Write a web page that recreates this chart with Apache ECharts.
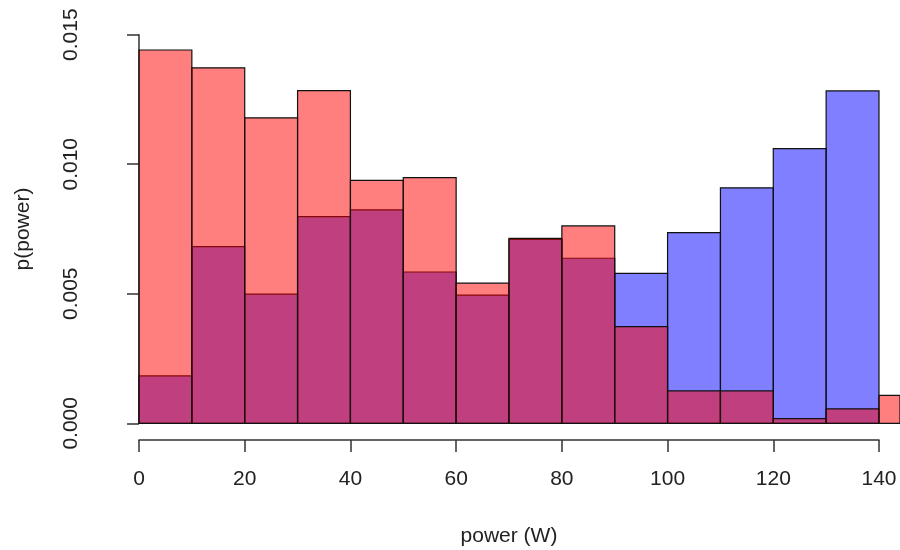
<!DOCTYPE html>
<html>
<head>
<meta charset="utf-8">
<script src="https://cdn.jsdelivr.net/npm/echarts@6/dist/echarts.min.js"></script>
<style>
  html, body { margin: 0; padding: 0; background: #fff; }
  #chart { width: 900px; height: 550px; }
</style>
</head>
<body>
<div id="chart"></div>
<script>
// Histogram bin edges (W) and densities per bin
const binStarts = [0, 10, 20, 30, 40, 50, 60, 70, 80, 90, 100, 110, 120, 130, 140];
const binWidth = 10;
const redDensity  = [0.01441, 0.01372, 0.01179, 0.01284, 0.00938, 0.00948, 0.00541, 0.00714, 0.00762, 0.00373, 0.00125, 0.00125, 0.00018, 0.00056, 0.00108];
const blueDensity = [0.00183, 0.00682, 0.00499, 0.00798, 0.00824, 0.00584, 0.00495, 0.00710, 0.00637, 0.00579, 0.00736, 0.00909, 0.01060, 0.01283];
const xTicks = [0, 20, 40, 60, 80, 100, 120, 140];

const FONT = 'Liberation Sans, Arial, sans-serif';

// Plot area geometry: the x axis (0..140 W) spans AXIS_W pixels,
// the plot area runs on to the right edge of the window.
const PLOT_LEFT = 139;
const AXIS_W = 740;
const PLOT_W = 900 - PLOT_LEFT;
const xMaxPlot = 140 * PLOT_W / AXIS_W;

function histData(values) {
  return values.map((v, i) => [binStarts[i], binStarts[i] + binWidth, v]);
}

function renderBin(params, api) {
  const p0 = api.coord([api.value(0), api.value(2)]);
  const p1 = api.coord([api.value(1), 0]);
  const rect = echarts.graphic.clipRectByRect(
    { x: p0[0], y: p0[1], width: p1[0] - p0[0], height: p1[1] - p0[1] },
    { x: params.coordSys.x, y: params.coordSys.y, width: params.coordSys.width, height: params.coordSys.height }
  );
  return rect && {
    type: 'rect',
    shape: rect,
    style: api.style()
  };
}

const chart = echarts.init(document.getElementById('chart'), null, { renderer: 'canvas' });

chart.setOption({
  animation: false,
  backgroundColor: '#ffffff',
  grid: [
    { left: PLOT_LEFT, top: 34.7, width: PLOT_W, height: 388.6 },
    { left: PLOT_LEFT, top: 439, width: AXIS_W, height: 1 }
  ],
  xAxis: [
    { gridIndex: 0, type: 'value', min: 0, max: xMaxPlot, show: false },
    {
      gridIndex: 1, type: 'value', min: 0, max: 140, interval: 20,
      position: 'bottom',
      axisLine: { show: true, lineStyle: { color: '#333', width: 1.5 } },
      axisTick: { show: true, length: 12, lineStyle: { color: '#333', width: 1.5 }, customValues: xTicks },
      axisLabel: {
        show: true, margin: 29, fontFamily: FONT, fontSize: 21, color: '#222',
        customValues: xTicks
      },
      splitLine: { show: false },
      name: 'power (W)', nameLocation: 'middle', nameGap: 86,
      nameTextStyle: { fontFamily: FONT, fontSize: 21, color: '#222' }
    }
  ],
  yAxis: [
    {
      gridIndex: 0, type: 'value', min: 0, max: 0.015, interval: 0.005,
      position: 'left', offset: 30,
      axisLine: { show: true, lineStyle: { color: '#333', width: 1.5 } },
      axisTick: { show: true, length: 12, lineStyle: { color: '#333', width: 1.5 } },
      axisLabel: {
        show: true, rotate: 90, margin: 27, fontFamily: FONT, fontSize: 21, color: '#222',
        formatter: v => v.toFixed(3)
      },
      splitLine: { show: false },
      name: 'p(power)', nameLocation: 'middle', nameRotate: 90, nameGap: 75,
      nameTextStyle: { fontFamily: FONT, fontSize: 21, color: '#222' }
    },
    { gridIndex: 1, type: 'value', show: false }
  ],
  series: [
    {
      name: 'blue', type: 'custom', xAxisIndex: 0, yAxisIndex: 0,
      renderItem: renderBin,
      itemStyle: { color: 'rgba(0,0,255,0.5)', borderColor: '#111', borderWidth: 1.2 },
      encode: { x: [0, 1], y: 2 },
      data: histData(blueDensity)
    },
    {
      name: 'red', type: 'custom', xAxisIndex: 0, yAxisIndex: 0,
      renderItem: renderBin,
      itemStyle: { color: 'rgba(255,0,0,0.5)', borderColor: '#111', borderWidth: 1.2 },
      encode: { x: [0, 1], y: 2 },
      data: histData(redDensity)
    }
  ]
});
</script>
</body>
</html>
